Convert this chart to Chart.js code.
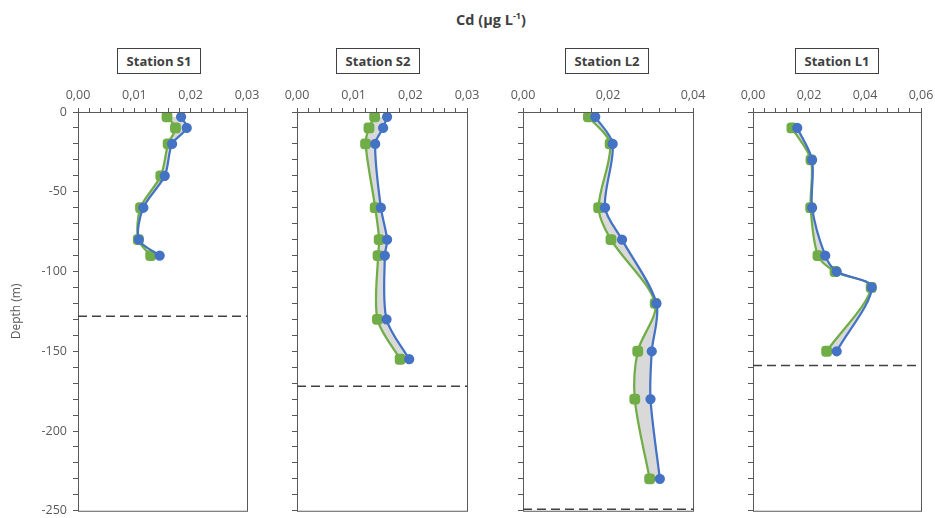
<!DOCTYPE html>
<html>
<head>
<meta charset="utf-8">
<script src="https://cdn.jsdelivr.net/npm/chart.js@4.4.0/dist/chart.umd.min.js"></script>
<style>
  html, body { margin: 0; padding: 0; background: #fff; overflow: hidden; }
  #page { position: relative; width: 935px; height: 518px; font-family: "Open Sans", Lato, sans-serif; }
  .panel { position: absolute; top: 80px; height: 438px; }
  .title { position: absolute; top: 9px; left: 0; width: 982px; text-align: center; font-weight: bold; font-size: 14.5px; color: #404040; }
  .station { position: absolute; top: 48px; width: 82px; height: 24px; line-height: 24px; border: 1px solid #404040; text-align: center; font-weight: bold; font-size: 13px; color: #404040; }
</style>
</head>
<body>
<div id="page">
  <div class="title">Cd (µg L<sup style="font-size:9px">-1</sup>)</div>
  <div class="station" style="left:117px">Station S1</div>
  <div class="station" style="left:336px">Station S2</div>
  <div class="station" style="left:565px">Station L2</div>
  <div class="station" style="left:795px">Station L1</div>
  <div class="panel" style="left:0px;width:262px"><canvas id="c0"></canvas></div>
  <div class="panel" style="left:277px;width:205px"><canvas id="c1"></canvas></div>
  <div class="panel" style="left:503px;width:205px"><canvas id="c2"></canvas></div>
  <div class="panel" style="left:733px;width:203px"><canvas id="c3"></canvas></div>
</div>
<script>
// profondeurs (m) et concentrations par station
const stations = ['Station S1', 'Station S2', 'Station L2', 'Station L1'];

const depthS1 = [-3, -10, -20, -40, -60, -80, -90];
const blueS1  = [0.0183, 0.0193, 0.0167, 0.0154, 0.0116, 0.0108, 0.0145];
const greenS1 = [0.0158, 0.0173, 0.0160, 0.0147, 0.0111, 0.0107, 0.0129];

const depthS2 = [-3, -10, -20, -60, -80, -90, -130, -155];
const blueS2  = [0.0159, 0.0152, 0.0138, 0.0148, 0.0159, 0.0155, 0.0158, 0.0198];
const greenS2 = [0.0137, 0.0127, 0.0121, 0.0138, 0.0145, 0.0143, 0.0142, 0.0182];

const depthL2 = [-3, -20, -60, -80, -120, -150, -180, -230];
const blueL2  = [0.0170, 0.0211, 0.0193, 0.0233, 0.0314, 0.0303, 0.0300, 0.0322];
const greenL2 = [0.0154, 0.0205, 0.0178, 0.0207, 0.0311, 0.0270, 0.0263, 0.0298];

const depthL1 = [-10, -30, -60, -90, -100, -110, -150];
const blueL1  = [0.0158, 0.0211, 0.0211, 0.0258, 0.0299, 0.0424, 0.0299];
const greenL1 = [0.0139, 0.0207, 0.0206, 0.0232, 0.0293, 0.0422, 0.0263];

// fond de la colonne d'eau (ligne pointillée)
const bottomDepth = [-128, -172, -249, -159];

// axes x
const xMax = [0.03, 0.03, 0.04, 0.06];
const xMajor = [0.01, 0.01, 0.02, 0.02];
const xMinor = [0.002, 0.002, 0.004, 0.004];

const yTicksMajor = [0, -50, -100, -150, -200, -250];

const depths = [depthS1, depthS2, depthL2, depthL1];
const blues = [blueS1, blueS2, blueL2, blueL1];
const greens = [greenS1, greenS2, greenL2, greenL1];

const axisColor = '#595959';
const fontFamily = '"Open Sans", Lato, sans-serif';

const toPoints = (xs, ys) => xs.map((v, i) => ({ x: v, y: ys[i] }));

const boxAndBottom = {
  id: 'boxAndBottom',
  afterDraw(chart, args, opts) {
    const { ctx, chartArea: a } = chart;
    ctx.save();
    ctx.strokeStyle = axisColor;
    ctx.lineWidth = 1;
    ctx.strokeRect(a.left + 0.5, a.top + 0.5, a.right - a.left, a.bottom - a.top);
    const y = chart.scales.y.getPixelForValue(opts.depth);
    ctx.strokeStyle = '#404040';
    ctx.lineWidth = 1.5;
    ctx.setLineDash([9, 5]);
    ctx.beginPath();
    ctx.moveTo(a.left, y);
    ctx.lineTo(a.right, y);
    ctx.stroke();
    ctx.restore();
  }
};

stations.forEach((name, k) => {
  const first = k === 0;
  new Chart(document.getElementById('c' + k), {
    type: 'line',
    data: {
      datasets: [{
        label: name + ' A',
        data: toPoints(blues[k], depths[k]),
        borderColor: '#4472C4',
        backgroundColor: '#d9d9d9',
        pointBackgroundColor: '#4472C4',
        pointBorderColor: '#4472C4',
        pointStyle: 'circle',
        pointRadius: 4,
        borderWidth: 2.25,
        tension: 0.3,
        fill: '+1'
      }, {
        label: name + ' B',
        data: toPoints(greens[k], depths[k]),
        borderColor: '#70AD47',
        backgroundColor: '#70AD47',
        pointBackgroundColor: '#70AD47',
        pointBorderColor: '#70AD47',
        pointStyle: 'rectRounded',
        pointRadius: 5,
        borderWidth: 2.25,
        tension: 0.3,
        fill: false
      }]
    },
    options: {
      indexAxis: 'y',
      responsive: true,
      maintainAspectRatio: false,
      animation: false,
      layout: { padding: { left: 0, right: 15, top: 0, bottom: 5 } },
      plugins: {
        legend: { display: false },
        tooltip: { enabled: false },
        filler: { drawTime: 'beforeDatasetsDraw' },
        boxAndBottom: { depth: bottomDepth[k] }
      },
      scales: {
        x: {
          type: 'linear',
          position: 'top',
          min: 0,
          max: xMax[k],
          border: { color: axisColor, width: 1 },
          grid: { drawOnChartArea: false, tickLength: 4, color: axisColor },
          ticks: {
            stepSize: xMinor[k],
            autoSkip: false,
            maxRotation: 0,
            padding: 5,
            color: axisColor,
            font: { family: fontFamily, size: 12.5 },
            callback: (v) => {
              const r = v / xMajor[k];
              return Math.abs(r - Math.round(r)) < 1e-6 ? v.toFixed(2).replace('.', ',') : '';
            }
          },
          afterFit: (s) => { s.height = 32; s.paddingLeft = 0; s.paddingRight = 0; }
        },
        y: {
          type: 'linear',
          position: 'left',
          min: -250,
          max: 0,
          border: { color: axisColor, width: 1 },
          grid: { drawOnChartArea: false, tickLength: 5, color: axisColor },
          title: {
            display: first,
            text: 'Depth (m)',
            color: axisColor,
            font: { family: fontFamily, size: 12 },
            padding: { top: 9, bottom: 4 }
          },
          ticks: {
            stepSize: 10,
            autoSkip: false,
            padding: 6,
            color: axisColor,
            font: { family: fontFamily, size: 12.5 },
            callback: (v) => (first && yTicksMajor.includes(v)) ? String(v) : ''
          },
          afterFit: (s) => { s.width = first ? 78 : 20; s.paddingTop = 0; s.paddingBottom = 0; }
        }
      }
    },
    plugins: [boxAndBottom]
  });
});
</script>
</body>
</html>
